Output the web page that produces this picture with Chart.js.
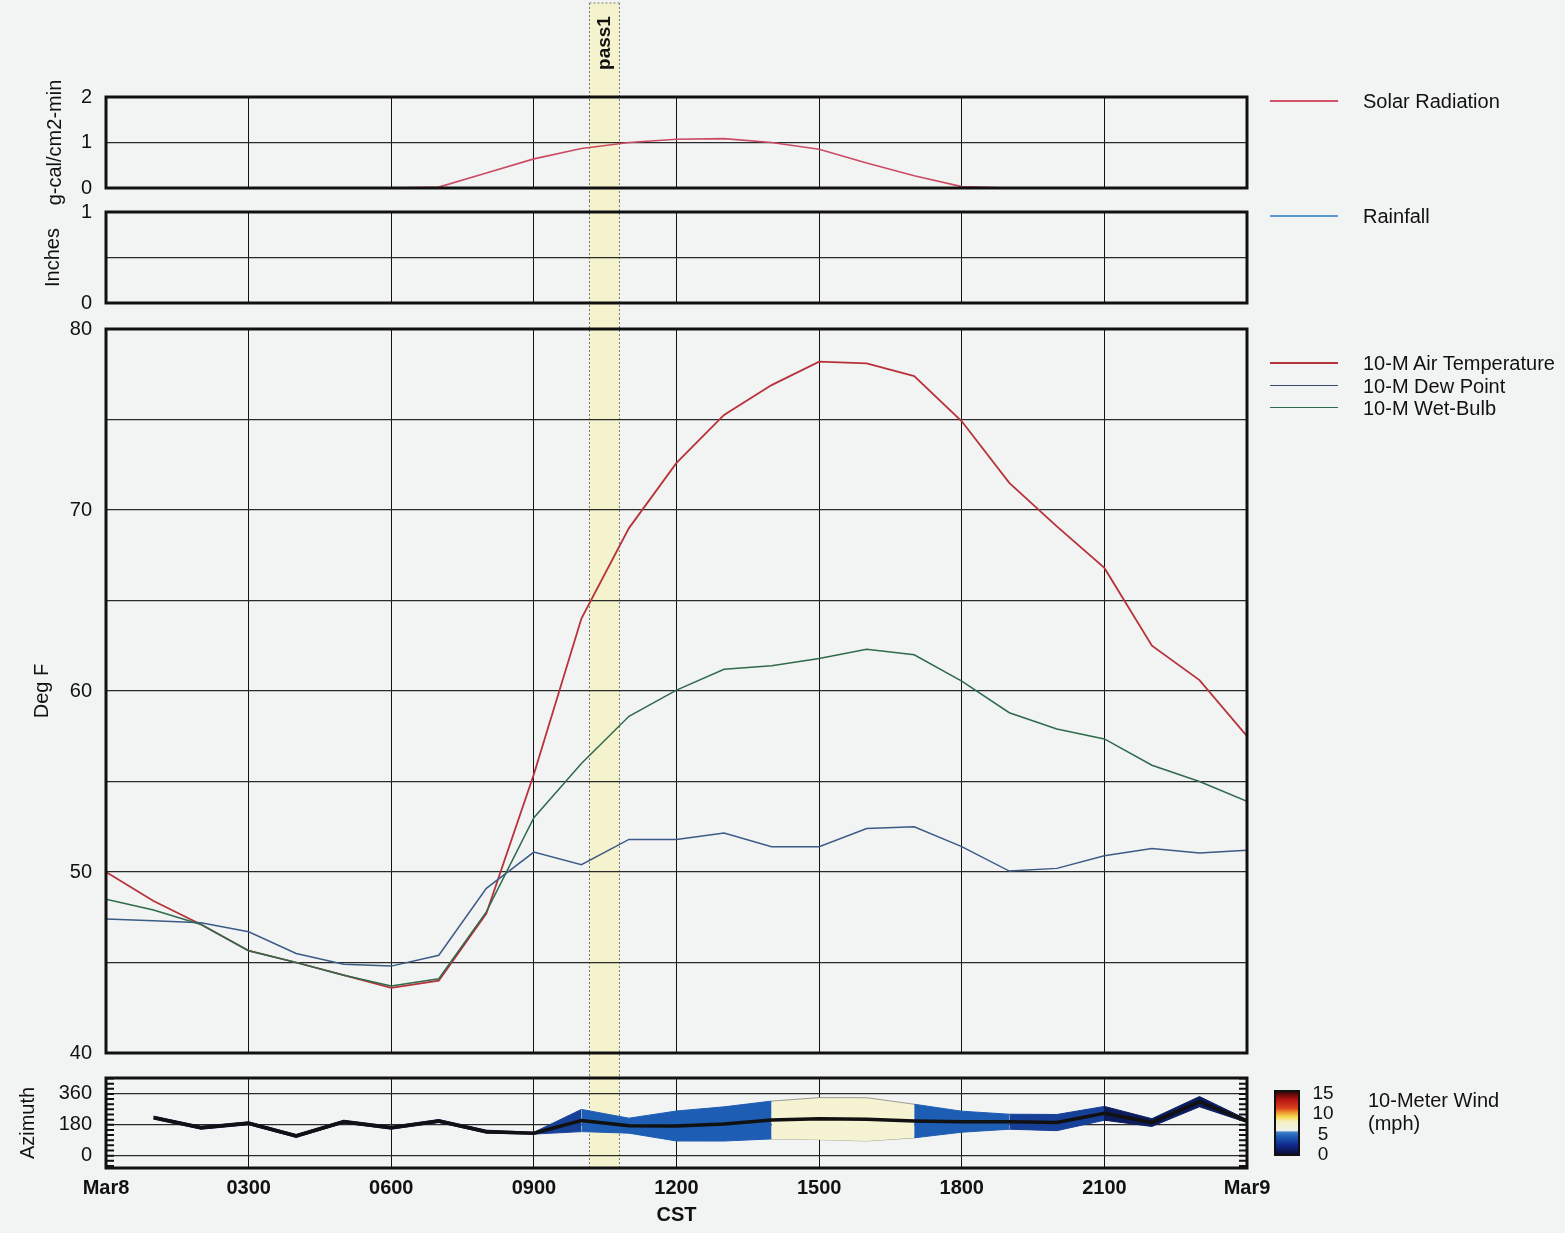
<!DOCTYPE html>
<html>
<head>
<meta charset="utf-8">
<script src="https://cdn.jsdelivr.net/npm/chart.js@4.4.0/dist/chart.umd.min.js"></script>
<style>
body{margin:0;background:#f2f4f4;width:1565px;height:1233px;overflow:hidden;position:relative;font-family:'Liberation Sans',Arial,sans-serif;color:#111}
.panel{position:absolute;left:0;width:1565px}
.lg{position:absolute;font-size:20px;line-height:22px;white-space:nowrap}
.sw{position:absolute;left:1270px;width:68px;height:2px}
.cb{position:absolute;left:1305px;width:36px;text-align:center;font-size:19px;line-height:20px}
</style>
</head>
<body>
<div class="panel" style="top:0;height:210px"><canvas id="solar"></canvas></div>
<div class="panel" style="top:201px;height:117px"><canvas id="rain"></canvas></div>
<div class="panel" style="top:318px;height:748px"><canvas id="temp"></canvas></div>
<div class="panel" style="top:1066px;height:167px"><canvas id="wind"></canvas></div>

<div class="sw" style="top:100px;background:#d2506a"></div>
<div class="lg" style="left:1363px;top:90px">Solar Radiation</div>
<div class="sw" style="top:215px;background:#5a9ad6"></div>
<div class="lg" style="left:1363px;top:205px">Rainfall</div>
<div class="sw" style="top:362px;background:#b8323a"></div>
<div class="lg" style="left:1363px;top:352px">10-M Air Temperature</div>
<div class="sw" style="top:385px;height:1px;background:#3c4e70"></div>
<div class="lg" style="left:1363px;top:375px">10-M Dew Point</div>
<div class="sw" style="top:407px;height:1px;background:#2f6a4c"></div>
<div class="lg" style="left:1363px;top:397px">10-M Wet-Bulb</div>

<div style="position:absolute;left:1274px;top:1090px;width:22px;height:62px;border:2px solid #111;background:linear-gradient(to top,#0a0d3a 0%,#10288a 14%,#1f5cb5 28%,#3d80c9 35%,#eef2ea 38%,#f6f0c4 52%,#f6d94e 60%,#ee9630 67%,#d8401e 74%,#b41410 88%,#3a0606 100%)"></div>
<div class="cb" style="top:1083px">15</div>
<div class="cb" style="top:1103px">10</div>
<div class="cb" style="top:1124px">5</div>
<div class="cb" style="top:1144px">0</div>
<div class="lg" style="left:1368px;top:1089px">10-Meter Wind</div>
<div class="lg" style="left:1368px;top:1112px">(mph)</div>

<script>
const hours = [0,1,2,3,4,5,6,7,8,9,10,11,12,13,14,15,16,17,18,19,20,21,22,23,24];
const xTickLabels = ['Mar8','0300','0600','0900','1200','1500','1800','2100','Mar9'];
const passWindow = [10.17, 10.8];

const solarRad = [0,0,0,0,0,0,0,0.02,0.33,0.64,0.87,1.0,1.07,1.085,1.0,0.85,0.55,0.27,0.03,0,0,0,0,0,0];
const rainfall = [0,0,0,0,0,0,0,0,0,0,0,0,0,0,0,0,0,0,0,0,0,0,0,0,0];

const airTemp = [50.0,48.4,47.1,45.65,45.0,44.3,43.6,44.0,47.7,55.4,64.0,69.0,72.6,75.25,76.9,78.2,78.1,77.4,74.9,71.5,69.1,66.8,62.5,60.6,57.5];
const dewPoint = [47.4,47.3,47.2,46.7,45.5,44.9,44.8,45.4,49.1,51.1,50.4,51.8,51.8,52.15,51.4,51.4,52.4,52.5,51.4,50.05,50.2,50.9,51.3,51.05,51.2];
const wetBulb = [48.5,47.9,47.1,45.65,45.0,44.3,43.7,44.1,47.8,53.0,56.0,58.6,60.05,61.2,61.4,61.8,62.3,62.0,60.55,58.8,57.9,57.35,55.9,55.0,53.9];

const windDir = [null,222,163,189,115,198,163,202,140,131,205,175,173,185,208,216,212,202,198,198,193,247,193,315,202];
const windSpeed = [null,0.5,0.5,0.5,0.5,0.5,0.5,0.5,0.5,0.3,3.7,2.5,5,5.7,6.3,7,7.2,5.6,3.5,2.5,2.7,2.3,1.3,1.7,0.5];
const azTicks = [0,180,360];

Chart.defaults.font.family = "'Liberation Sans', Arial, sans-serif";
Chart.defaults.color = '#111';
Chart.defaults.animation = false;

const pts = arr => arr.map((v, i) => ({x: hours[i], y: v}));
const degPerMph = 17.5;

function speedColor(s) {
  if (s < 2) return '#0c1c5e';
  if (s < 3) return '#163f98';
  if (s < 6.1) return '#1d5db3';
  if (s < 6.4) return '#58a6de';
  if (s < 8) return '#f6f3d2';
  if (s < 10) return '#f2d45a';
  if (s < 12) return '#e8802c';
  return '#c42018';
}
const segSpeed = c => (windSpeed[c.p0DataIndex] + windSpeed[c.p1DataIndex]) / 2;
const edgeColor = c => { const s = segSpeed(c); return s >= 6.4 && s < 8 ? '#9a9a90' : speedColor(s); };

const panelPlugin = {
  id: 'panelPlugin',
  beforeDraw(chart) {
    const {ctx, scales: {x}} = chart;
    const id = chart.canvas.id;
    const x0 = x.getPixelForValue(passWindow[0]), x1 = x.getPixelForValue(passWindow[1]);
    const top = id === 'solar' ? 3 : 0;
    // solar canvas overlaps the rain one a little, so stop the band where the rain canvas starts
    const bottom = id === 'wind' ? chart.chartArea.bottom : id === 'solar' ? 201 : chart.height;
    ctx.save();
    ctx.fillStyle = 'rgba(246,240,180,0.6)';
    ctx.fillRect(x0, top, x1 - x0, bottom - top);
    ctx.setLineDash([2, 2]);
    ctx.strokeStyle = '#7a7a70';
    ctx.lineWidth = 1;
    ctx.beginPath();
    ctx.moveTo(x0, top); ctx.lineTo(x0, bottom);
    ctx.moveTo(x1, top); ctx.lineTo(x1, bottom);
    if (id === 'solar') { ctx.moveTo(x0, top); ctx.lineTo(x1, top); }
    ctx.stroke();
    ctx.restore();
  },
  afterDraw(chart) {
    const {ctx, chartArea: a} = chart;
    ctx.save();
    ctx.strokeStyle = '#111';
    ctx.lineWidth = 3;
    ctx.strokeRect(a.left, a.top, a.right - a.left, a.bottom - a.top);
    if (chart.canvas.id === 'wind') {
      const y = chart.scales.y;
      ctx.lineWidth = 2;
      ctx.beginPath();
      for (let v = -60; v <= 450; v += 30) {
        const py = y.getPixelForValue(v);
        ctx.moveTo(a.left, py); ctx.lineTo(a.left + 8, py);
        ctx.moveTo(a.right - 8, py); ctx.lineTo(a.right, py);
      }
      ctx.stroke();
    }
    if (chart.canvas.id === 'solar') {
      const x = chart.scales.x;
      ctx.translate((x.getPixelForValue(passWindow[0]) + x.getPixelForValue(passWindow[1])) / 2, 43);
      ctx.rotate(-Math.PI / 2);
      ctx.font = "bold 19px 'Liberation Sans', Arial, sans-serif";
      ctx.fillStyle = '#111';
      ctx.textAlign = 'center';
      ctx.textBaseline = 'middle';
      ctx.fillText('pass1', 0, 0);
    }
    ctx.restore();
  }
};

function xAxis(showLabels) {
  return {
    type: 'linear', min: 0, max: 24,
    grid: {color: '#111', lineWidth: 1, drawTicks: false},
    border: {display: false},
    ticks: {
      display: showLabels, stepSize: 3, padding: 10,
      font: {size: 20, weight: 'bold', lineHeight: 1}, color: '#111',
      callback: v => xTickLabels[v / 3]
    },
    title: {display: showLabels, text: 'CST', font: {size: 20, weight: 'bold'}, color: '#111', padding: {top: 0, bottom: 6}},
    afterFit: s => { s.height = showLabels ? 65 : 0; }
  };
}

function yAxis(min, max, step, labelled, title, titlePad) {
  return {
    min: min, max: max,
    grid: {color: '#2a2a2a', lineWidth: 1.3, drawTicks: true, tickLength: 14, tickColor: 'rgba(0,0,0,0)'},
    border: {display: false},
    ticks: {
      stepSize: step, padding: 0, font: {size: 20, lineHeight: 1}, color: '#111',
      callback: v => labelled.includes(v) ? String(v) : ''
    },
    title: {display: true, text: title, font: {size: 20}, color: '#111', padding: {top: titlePad, bottom: 0}},
    afterFit: s => { s.width = 106; }
  };
}

function baseOptions(padTop, padBottom) {
  return {
    responsive: true, maintainAspectRatio: false,
    layout: {padding: {left: 0, right: 318, top: padTop, bottom: padBottom}},
    plugins: {legend: {display: false}, tooltip: {enabled: false}},
    elements: {point: {radius: 0}, line: {tension: 0}}
  };
}

new Chart(document.getElementById('solar'), {
  type: 'line',
  data: {datasets: [
    {label: 'Solar Radiation', data: pts(solarRad), borderColor: '#cc4a64', borderWidth: 1.6}
  ]},
  options: Object.assign(baseOptions(97, 22), {
    scales: {x: xAxis(false), y: yAxis(0, 2, 0.5, [0, 1, 2], 'g-cal/cm2-min', 43)}
  }),
  plugins: [panelPlugin]
});

new Chart(document.getElementById('rain'), {
  type: 'line',
  data: {datasets: [
    {label: 'Rainfall', data: pts(rainfall), borderColor: '#5a9ad6', borderWidth: 1.6}
  ]},
  options: Object.assign(baseOptions(11, 15), {
    scales: {x: xAxis(false), y: yAxis(0, 1, 0.5, [0, 1], 'Inches', 41)}
  }),
  plugins: [panelPlugin]
});

new Chart(document.getElementById('temp'), {
  type: 'line',
  data: {datasets: [
    {label: '10-M Air Temperature', data: pts(airTemp), borderColor: '#b8323a', borderWidth: 1.8, order: 2},
    {label: '10-M Dew Point', data: pts(dewPoint), borderColor: '#3c5a86', borderWidth: 1.5, order: 1},
    {label: '10-M Wet-Bulb', data: pts(wetBulb), borderColor: '#2f6a4c', borderWidth: 1.5, order: 0}
  ]},
  options: Object.assign(baseOptions(11, 13), {
    scales: {x: xAxis(false), y: yAxis(40, 80, 5, [40, 50, 60, 70, 80], 'Deg F', 30)}
  }),
  plugins: [panelPlugin]
});

const windY = yAxis(-72, 453, 180, azTicks, 'Azimuth', 16);
windY.afterBuildTicks = s => { s.ticks = azTicks.map(v => ({value: v})); };

new Chart(document.getElementById('wind'), {
  type: 'line',
  data: {datasets: [
    {label: 'band top', data: pts(windDir.map((d, i) => d === null ? null : d + windSpeed[i] * degPerMph)),
     fill: '+1', borderWidth: 1, order: 2,
     segment: {backgroundColor: c => speedColor(segSpeed(c)), borderColor: edgeColor}},
    {label: 'band bottom', data: pts(windDir.map((d, i) => d === null ? null : d - windSpeed[i] * degPerMph)),
     fill: false, borderWidth: 1, order: 3,
     segment: {borderColor: edgeColor}},
    {label: '10-Meter Wind', data: pts(windDir), borderColor: '#111', borderWidth: 3.5, order: 0}
  ]},
  options: Object.assign(baseOptions(12, 0), {
    scales: {x: xAxis(true), y: windY}
  }),
  plugins: [panelPlugin]
});
</script>
</body>
</html>
